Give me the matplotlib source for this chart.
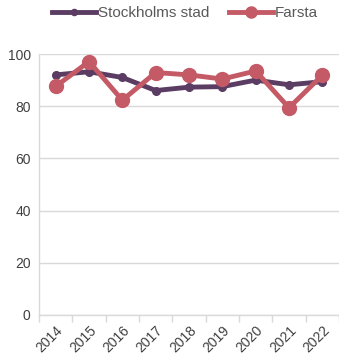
import matplotlib
matplotlib.use("Agg")
from matplotlib import pyplot as plt
import numpy as np

years = ["2014", "2015", "2016", "2017", "2018", "2019", "2020", "2021", "2022"]
stockholm = [92.0, 93.2, 91.0, 86.0, 87.3, 87.5, 90.0, 88.2, 89.4]
farsta = [87.6, 97.1, 82.3, 92.9, 92.0, 90.4, 93.5, 79.4, 91.9]

plt.rcParams["font.family"] = ["Liberation Sans", "DejaVu Sans"]

fig = plt.figure(figsize=(3.39, 3.6), dpi=100)
ax = fig.add_axes([39 / 339, 1 - 315 / 360, 1 - 39 / 339, (315 - 54) / 360])

x = np.arange(len(years))
ax.plot(x, stockholm, color="#5b3d63", lw=3.5, marker="o", ms=5.5,
        label="Stockholms stad", zorder=3)
ax.plot(x, farsta, color="#c45a66", lw=3.5, marker="o", ms=10,
        label="Farsta", zorder=4)

ax.set_xlim(-0.5, len(years) - 0.5)
ax.set_ylim(0, 100)
ax.set_yticks(range(0, 101, 20))
ax.yaxis.grid(True, color="#d9d9d9", lw=1)
ax.set_axisbelow(True)
ax.tick_params(axis="y", length=0, pad=6, labelsize=10, labelcolor="#404040")

ax.set_xticks(x)
ax.set_xticklabels(years, rotation=45, ha="right", rotation_mode="anchor")
ax.set_xticks(np.arange(-0.5, len(years)), minor=True)
ax.tick_params(axis="x", which="major", length=0, pad=6, labelsize=10,
               labelcolor="#404040")
ax.tick_params(axis="x", which="minor", length=5, color="#d9d9d9", width=1)

for side in ["top", "right"]:
    ax.spines[side].set_visible(False)
for side in ["left", "bottom"]:
    ax.spines[side].set_color("#d9d9d9")
    ax.spines[side].set_linewidth(1)

fig.legend(loc="center", bbox_to_anchor=(185 / 339, 1 - 13 / 360), ncol=2,
           frameon=False, fontsize=11, labelcolor="#595959",
           handlelength=2.9, handletextpad=0.1, columnspacing=1.3,
           markerscale=0.8)

fig.savefig("out.png", dpi=100)
